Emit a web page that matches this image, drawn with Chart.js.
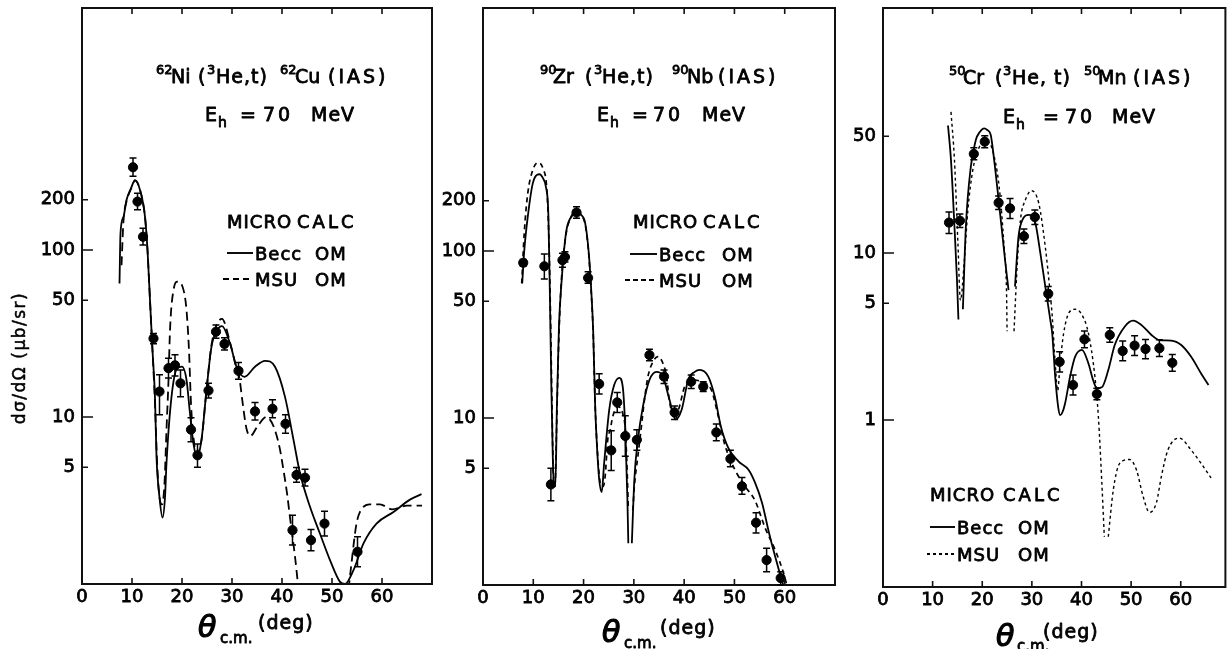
<!DOCTYPE html>
<html>
<head>
<meta charset="utf-8">
<script src="https://cdn.jsdelivr.net/npm/chart.js@4.4.0/dist/chart.umd.min.js"></script>
<style>
  html, body { margin: 0; padding: 0; background: #fff; overflow: hidden; }
  #wrap { position: relative; width: 1231px; height: 649px; }
  #wrap canvas { position: absolute; left: 0; top: 0; }
</style>
</head>
<body>
<div id="wrap">
  <canvas id="ni" width="1231" height="649"></canvas>
  <canvas id="zr" width="1231" height="649"></canvas>
  <canvas id="cr" width="1231" height="649"></canvas>
</div>
<script>
// Scattering angle ticks (deg), shared by all three panels
const xTicksDeg = [0, 10, 20, 30, 40, 50, 60];

// ---------- 62Ni(3He,t)62Cu (IAS) ----------
const niBeccDeg = [7.5, 7.7, 8.3, 8.9, 9.8, 10.6, 11.6, 12.6, 13.1, 13.6, 14.1, 14.6, 14.9, 15.5, 16.1, 16.6, 16.9, 17.9, 19.0, 20.0, 20.9, 21.6, 22.3, 23.0, 23.9, 24.9, 25.9, 27.0, 28.0, 29.6, 30.9, 32.5, 34.6, 36.6, 38.6, 40.6, 42.3, 43.6, 45.6, 47.6, 49.6, 51.6, 52.6, 54.3, 56.3, 58.9, 62.3, 65.6, 67.9];
const niBeccVal = [63, 126, 158, 199, 234, 262, 229, 158, 100, 50, 25, 13, 5.8, 3.3, 2.5, 3.3, 5.3, 13.2, 19.5, 20, 16.7, 10.5, 6.9, 5.8, 7.3, 14.5, 26.4, 33, 35, 27.6, 20, 17.4, 20, 21.7, 20, 13.2, 7.3, 4.6, 2.9, 2.0, 1.39, 1.03, 1.0, 1.21, 1.75, 2.3, 2.7, 3.2, 3.45];
const niMsuDeg = [7.9, 8.3, 8.9, 9.8, 10.6, 11.6, 12.6, 13.1, 13.6, 14.1, 14.6, 15.0, 15.5, 16.0, 16.5, 16.9, 17.3, 17.6, 18.3, 19.1, 20.3, 20.9, 21.4, 21.8, 22.3, 23.0, 23.9, 24.9, 25.9, 27.0, 28.0, 29.6, 30.9, 31.5, 32.0, 32.9, 33.7, 35.0, 36.9, 38.3, 39.5, 40.3, 41.0, 41.6, 42.6, 43.3, 48.0, 53.3, 53.9, 54.4, 54.9, 55.6, 57.5, 59.6, 62.0, 65.0, 68.0];
const niMsuVal = [81, 150, 195, 232, 260, 229, 158, 100, 50, 25, 12, 5.5, 3.3, 3.0, 4.0, 8.4, 16.6, 33, 57.7, 64.6, 57.7, 43.7, 25, 12, 7.5, 6.0, 7.3, 14.5, 27, 36, 38.7, 28, 19.5, 17, 13, 8.5, 7.7, 8.7, 10, 8.8, 6.6, 4.8, 3.5, 2.5, 1.46, 0.93, null, 0.93, 1.33, 1.8, 2.3, 2.7, 3.0, 3.0, 2.8, 2.95, 2.95];
const niExpDeg = [10.2, 11.1, 12.2, 14.3, 15.5, 17.3, 18.6, 19.7, 21.8, 23.1, 25.3, 26.8, 28.5, 31.3, 34.6, 38.1, 40.7, 42.1, 42.9, 44.6, 45.8, 48.5, 55.1];
const niExpVal = [313, 195, 120, 29.5, 14.2, 19.6, 20.4, 15.9, 8.4, 5.9, 14.4, 32.4, 27.4, 18.9, 10.8, 11.2, 9.1, 2.1, 4.5, 4.33, 1.83, 2.3, 1.56];
const niExpLow = [276, 174, 107, 27.5, 10.3, 17.1, 17.6, 13.2, 7.1, 5.0, 13.0, 29.6, 25.2, 16.8, 9.6, 9.9, 8.0, 1.71, 4.07, 3.86, 1.58, 1.94, 1.27];
const niExpHigh = [355, 219, 135, 31.6, 17.9, 22.5, 23.6, 19.1, 9.9, 6.9, 15.9, 35.5, 29.8, 21.2, 12.2, 12.7, 10.3, 2.58, 4.98, 4.86, 2.12, 2.73, 1.92];
const niYLabels = [5, 10, 50, 100, 200];

// ---------- 90Zr(3He,t)90Nb (IAS) ----------
const zrBeccDeg = [7.8, 8.2, 8.9, 9.9, 11.2, 12.0, 12.5, 13.0, 13.3, 13.6, 13.9, 14.1, 14.4, 14.7, 15.1, 15.6, 16.5, 17.5, 18.6, 19.5, 20.3, 21.0, 21.5, 21.9, 22.3, 22.7, 23.1, 23.6, 24.1, 25.1, 26.1, 27.1, 27.8, 28.3, 28.7, 28.9, 29.2, 29.6, 30.1, 30.8, 31.8, 33.1, 34.5, 35.8, 37.1, 38.3, 39.5, 40.8, 42.1, 43.1, 44.8, 46.1, 47.3, 48.8, 50.8, 52.8, 54.1, 55.5, 56.8, 58.1, 59.5, 60.2];
const zrBeccVal = [64, 100, 160, 254, 288, 270, 243, 165, 55, 15, 5.5, 3.9, 3.9, 12, 35, 64, 128, 160, 175, 165, 148, 100, 60, 34, 12, 6.5, 4.3, 3.6, 5.4, 11.2, 15.8, 17.4, 15.3, 8.5, 3.4, 1.78, null, 1.78, 4.3, 7.4, 11.7, 16.9, 18.9, 17.7, 12.8, 9.8, 11.2, 16.9, 18.9, 19.4, 17.7, 13.4, 8.9, 6.6, 5.5, 4.9, 4.1, 3.1, 2.1, 1.48, 1.05, 0.9];
const zrMsuDeg = [7.7, 8.2, 8.9, 9.9, 10.9, 11.9, 12.7, 13.1, 13.4, 13.7, 14.0, 14.3, 14.6, 15.0, 15.5, 16.5, 17.5, 18.6, 19.5, 20.3, 21.0, 21.5, 21.9, 22.3, 22.8, 23.4, 23.9, 24.3, 24.8, 25.3, 25.8, 26.8, 27.8, 28.3, 28.7, 28.9, 29.3, 29.8, 30.1, 30.8, 31.5, 32.1, 32.8, 33.8, 34.8, 35.8, 36.5, 37.1, 38.2, 39.0, 40.1, 41.5, 43.0, 44.5, 45.5, 46.8, 48.1, 50.1, 52.1, 54.1, 56.1, 58.1, 59.8, 60.8];
const zrMsuVal = [64, 128, 221, 305, 338, 313, 232, 120, 45, 13, 4.5, 3.9, 8, 25, 60, 125, 158, 172, 163, 145, 98, 58, 33, 12, 6, 4.0, 3.9, 4.5, 7.4, 8.5, 10.2, 11.7, 10.6, 8.5, 4.5, 2.8, null, 2.8, 3.9, 5.9, 8.9, 12.8, 17.7, 21.7, 23.3, 21.2, 17.7, 12.5, 9.9, 11.5, 15.4, 16.9, 16.7, 16.0, 14.5, 10.2, 6.9, 4.9, 3.9, 3.2, 2.2, 1.62, 1.17, 0.9];
const zrExpDeg = [8.0, 12.2, 13.5, 15.8, 16.3, 18.6, 20.9, 23.1, 25.5, 26.7, 28.3, 30.6, 33.1, 36.0, 38.1, 41.4, 43.8, 46.4, 49.2, 51.5, 54.3, 56.4, 59.2];
const zrExpVal = [85, 81, 4.0, 88, 92, 170, 69, 16.0, 6.4, 12.4, 7.8, 7.4, 23.8, 17.7, 10.8, 16.5, 15.4, 8.2, 5.7, 3.9, 2.36, 1.41, 1.1];
const zrExpLow = [81, 68, 3.2, 80, 86, 157, 64, 13.9, 4.85, 10.8, 5.9, 6.4, 22.0, 16.1, 9.8, 15.0, 14.4, 7.3, 5.1, 3.5, 2.05, 1.2, 1.0];
const zrExpHigh = [89, 96, 5.0, 97, 99, 184, 75, 18.4, 8.4, 14.2, 10.3, 8.5, 25.8, 19.4, 11.8, 18.1, 16.5, 9.2, 6.4, 4.4, 2.71, 1.66, 1.2];
const zrYLabels = [5, 10, 50, 100, 200];

// ---------- 50Cr(3He,t)50Mn (IAS) ----------
const crBeccDeg = [13.1, 13.7, 14.4, 14.9, 15.2, 15.6, 16.1, 16.7, 17.7, 18.7, 19.5, 20.4, 21.0, 21.7, 22.4, 23.3, 24.1, 24.8, 25.3, 26.0, 26.6, 27.3, 28.1, 29.4, 30.7, 31.7, 32.7, 33.7, 34.1, 34.7, 35.3, 35.7, 36.2, 36.7, 37.7, 38.7, 40.1, 41.4, 42.3, 43.1, 44.1, 45.4, 46.7, 48.7, 50.4, 52.1, 54.1, 55.7, 58.1, 60.1, 62.1, 64.1, 65.6];
const crBeccVal = [58, 36, 14.4, 7, 4.0, null, 4.6, 14.4, 32.9, 47.5, 53, 55.8, 54.5, 51, 36, 20.8, 12.5, 8, 6.0, null, 6.3, 12.5, 15.8, 16.9, 15.1, 10, 6.3, 4.0, 3.3, 1.82, 1.2, 1.07, 1.12, 1.26, 1.82, 2.39, 2.63, 2.18, 1.75, 1.55, 1.57, 1.99, 2.81, 3.62, 3.93, 3.7, 3.23, 3.01, 2.99, 2.81, 2.39, 1.9, 1.62];
const crMsuDeg = [13.7, 14.4, 15.1, 15.6, 16.4, 17.1, 18.1, 19.4, 21.1, 22.1, 23.4, 24.4, 24.9, 25.0, 25.7, 26.4, 27.1, 27.7, 28.7, 29.9, 31.4, 32.7, 33.7, 34.1, 34.7, 35.2, 35.7, 36.4, 37.4, 38.7, 40.1, 41.4, 42.7, 43.4, 44.1, 44.6, 45.0, 45.4, 46.4, 47.7, 49.7, 51.1, 52.4, 53.7, 55.1, 56.1, 57.4, 59.7, 62.1, 64.1, 66.1];
const crMsuVal = [70, 36, 11.4, 5.2, 9.1, 18, 31.4, 43, 46.5, 41, 25, 10.9, 5.7, 3.4, null, 3.4, 9.1, 15.8, 20.8, 23.6, 19.8, 10.9, 5.7, 4.2, 2.2, 1.5, 2.2, 3.3, 4.35, 4.6, 4.26, 3.3, 1.82, 1.05, 0.42, 0.2, null, 0.2, 0.38, 0.55, 0.58, 0.5, 0.35, 0.28, 0.32, 0.46, 0.66, 0.78, 0.66, 0.55, 0.45];
const crExpDeg = [13.3, 15.5, 18.3, 20.5, 23.3, 25.6, 28.4, 30.6, 33.3, 35.6, 38.3, 40.6, 43.1, 45.7, 48.3, 50.7, 52.9, 55.7, 58.3];
const crExpVal = [15.2, 15.6, 39.2, 46.4, 20, 18.5, 12.6, 16.4, 5.7, 2.23, 1.62, 3.04, 1.43, 3.23, 2.59, 2.79, 2.66, 2.69, 2.2];
const crExpLow = [13.1, 14.2, 36.1, 42.7, 18.2, 16.1, 11.4, 14.8, 5.15, 1.94, 1.41, 2.71, 1.32, 2.92, 2.26, 2.43, 2.33, 2.4, 1.96];
const crExpHigh = [17.6, 17.1, 42.6, 50.4, 21.9, 21.2, 13.9, 18.1, 6.3, 2.56, 1.86, 3.41, 1.55, 3.57, 2.97, 3.2, 3.03, 3.02, 2.47];
const crYLabels = [1, 5, 10, 50];

const FONT = "'DejaVu Sans'";
const INK = 0.8; // extra stroke that gives the lettering a semi-bold weight

function toPoints(xs, ys) {
  return xs.map((x, i) => ({ x: x, y: ys[i] }));
}

// tick marks of a log axis: 1..9 x 10^n inside [min, max]
function logTicks(min, max) {
  const out = [];
  for (let e = Math.floor(Math.log10(min)); e <= Math.ceil(Math.log10(max)); e++) {
    for (let m = 1; m <= 9; m++) {
      const v = +(m * Math.pow(10, e)).toPrecision(6);
      if (v >= min && v <= max) out.push(v);
    }
  }
  return out;
}
function isDecade(v) {
  const l = Math.log10(v);
  return Math.abs(l - Math.round(l)) < 1e-9;
}

// frame with inward tick marks on the bottom, top and left edges
const frameTicks = {
  id: 'frameTicks',
  afterDatasetsDraw(chart) {
    const { ctx, chartArea: a, scales: { x, y } } = chart;
    ctx.save();
    ctx.strokeStyle = '#111';
    ctx.lineWidth = 2;
    ctx.strokeRect(a.left, a.top, a.right - a.left, a.bottom - a.top);
    ctx.lineWidth = 1.6;
    ctx.beginPath();
    x.ticks.forEach(t => {
      if (t.value <= x.min || t.value >= x.max) return;
      const px = x.getPixelForValue(t.value);
      ctx.moveTo(px, a.bottom); ctx.lineTo(px, a.bottom - 6);
      ctx.moveTo(px, a.top); ctx.lineTo(px, a.top + 6);
    });
    y.ticks.forEach(t => {
      const py = y.getPixelForValue(t.value);
      if (py < a.top + 2 || py > a.bottom - 2) return;
      const len = isDecade(t.value) ? 11 : 6;
      ctx.moveTo(a.left, py); ctx.lineTo(a.left + len, py);
    });
    ctx.stroke();
    ctx.restore();
  }
};

// vertical error bars with short caps, from each dataset's errLow / errHigh
const errorBars = {
  id: 'errorBars',
  afterDatasetsDraw(chart) {
    const { ctx, scales: { x, y } } = chart;
    chart.data.datasets.forEach(ds => {
      if (!ds.errLow) return;
      ctx.save();
      ctx.strokeStyle = '#000';
      ctx.lineWidth = 1.5;
      ds.data.forEach((p, j) => {
        const px = x.getPixelForValue(p.x);
        const y1 = y.getPixelForValue(ds.errLow[j]);
        const y2 = y.getPixelForValue(ds.errHigh[j]);
        ctx.beginPath();
        ctx.moveTo(px, y1); ctx.lineTo(px, y2);
        ctx.moveTo(px - 3.5, y1); ctx.lineTo(px + 3.5, y1);
        ctx.moveTo(px - 3.5, y2); ctx.lineTo(px + 3.5, y2);
        ctx.stroke();
      });
      ctx.restore();
    });
  }
};

// reaction title, beam energy, legend and axis titles of one panel
function textLayer(items) {
  return {
    id: 'textLayer',
    afterDraw(chart) {
      const ctx = chart.ctx;
      ctx.save();
      ctx.fillStyle = '#000';
      ctx.strokeStyle = '#000';
      items.forEach(it => {
        if (it.line) {
          ctx.save();
          ctx.lineWidth = 1.9;
          ctx.setLineDash(it.dash || []);
          ctx.beginPath();
          ctx.moveTo(it.line[0], it.line[2]);
          ctx.lineTo(it.line[1], it.line[2]);
          ctx.stroke();
          ctx.restore();
          return;
        }
        ctx.font = (it.italic ? 'italic ' : '') + (it.size || 19) + 'px ' + FONT;
        ctx.letterSpacing = (it.ls || 0) + 'px';
        ctx.lineWidth = it.ink === undefined ? INK : it.ink;
        ctx.lineJoin = 'round';
        ctx.save();
        ctx.translate(it.x, it.y);
        if (it.rot) {
          ctx.rotate(it.rot);
          ctx.textAlign = 'center';
          ctx.textBaseline = 'middle';
        } else {
          ctx.textAlign = 'left';
          ctx.textBaseline = 'alphabetic';
        }
        ctx.fillText(it.t, 0, 0);
        if (ctx.lineWidth > 0) ctx.strokeText(it.t, 0, 0);
        ctx.restore();
      });
      ctx.restore();
    }
  };
}

function panel(id, p) {
  const datasets = [
    {
      type: 'line', label: 'Becc OM',
      data: toPoints(p.beccDeg, p.beccVal),
      borderColor: '#000', borderWidth: 1.8, pointRadius: 0,
      cubicInterpolationMode: 'monotone', spanGaps: false, fill: false
    },
    {
      type: 'line', label: 'MSU OM',
      data: toPoints(p.msuDeg, p.msuVal),
      borderColor: '#000', borderWidth: p.dashWidth, borderDash: p.dash, pointRadius: 0,
      cubicInterpolationMode: 'monotone', spanGaps: false, fill: false
    },
    {
      type: 'scatter', label: 'data',
      data: toPoints(p.expDeg, p.expVal),
      errLow: p.expLow, errHigh: p.expHigh,
      pointRadius: 4.6, pointBackgroundColor: '#000', pointBorderColor: '#000', showLine: false
    }
  ];
  const tickFont = { family: FONT, size: 18 };
  new Chart(document.getElementById(id), {
    type: 'line',
    data: { datasets: datasets },
    options: {
      responsive: false,
      animation: false,
      events: [],
      layout: { padding: { left: p.left - 82, right: 1231 - p.right, top: 8, bottom: 0 } },
      plugins: { legend: { display: false }, tooltip: { enabled: false } },
      scales: {
        x: {
          type: 'linear', min: 0, max: p.xMax,
          grid: { display: false, drawTicks: false },
          border: { display: false },
          afterBuildTicks: s => { s.ticks = xTicksDeg.map(v => ({ value: v })); },
          afterFit: s => { s.height = 649 - p.bottom; s.paddingLeft = 0; s.paddingRight = 0; },
          ticks: {
            font: tickFont, color: '#000', textStrokeColor: '#000', textStrokeWidth: INK,
            padding: 3, maxRotation: 0, autoSkip: false, callback: v => String(v)
          }
        },
        y: {
          type: 'logarithmic', min: p.yMin, max: p.yMax,
          grid: { display: false, drawTicks: false },
          border: { display: false },
          afterBuildTicks: s => { s.ticks = logTicks(p.yMin, p.yMax).map(v => ({ value: v })); },
          afterFit: s => { s.width = 82; s.paddingTop = 0; s.paddingBottom = 0; },
          ticks: {
            font: tickFont, color: '#000', textStrokeColor: '#000', textStrokeWidth: INK,
            padding: 7, autoSkip: false,
            callback: v => (p.yLabels.includes(v) ? String(v) : null)
          }
        }
      }
    },
    plugins: [frameTicks, errorBars, textLayer(p.texts)]
  });
}

panel('ni', {
  left: 82, right: 432, bottom: 584, xMax: 70, yMin: 1, yMax: 2812,
  beccDeg: niBeccDeg, beccVal: niBeccVal, msuDeg: niMsuDeg, msuVal: niMsuVal,
  expDeg: niExpDeg, expVal: niExpVal, expLow: niExpLow, expHigh: niExpHigh,
  yLabels: niYLabels, dash: [9, 5], dashWidth: 1.8,
  texts: [
    { t: '62', x: 156, y: 74, size: 13 }, { t: 'Ni', x: 171, y: 83 }, { t: '(', x: 198, y: 83 },
    { t: '3', x: 207, y: 74, size: 13 }, { t: 'He,t)', x: 216, y: 83, ls: 1 },
    { t: '62', x: 280, y: 74, size: 13 }, { t: 'Cu', x: 295, y: 83 }, { t: '(IAS)', x: 328, y: 83, ls: 3 },
    { t: 'E', x: 205, y: 121 }, { t: 'h', x: 218, y: 127, size: 14 }, { t: '=', x: 240, y: 121 },
    { t: '70', x: 263, y: 121, ls: 3 }, { t: 'MeV', x: 311, y: 121, ls: 1 },
    { t: 'MICRO', x: 227, y: 228, size: 18, ls: 1 }, { t: 'CALC', x: 297, y: 228, size: 18, ls: 3 },
    { line: [227, 253, 253] }, { t: 'Becc', x: 255, y: 260, size: 18, ls: 1 }, { t: 'OM', x: 315, y: 260, size: 18, ls: 1 },
    { line: [223, 253, 279], dash: [6, 4] }, { t: 'MSU', x: 255, y: 286, size: 18, ls: 1 }, { t: 'OM', x: 315, y: 286, size: 18, ls: 1 },
    { t: 'θ', x: 198, y: 637, size: 30, italic: true, ink: 1.2 }, { t: 'c.m.', x: 220, y: 643, size: 15 },
    { t: '(deg)', x: 258, y: 629, size: 19, ls: 1 },
    { t: 'dσ/dΩ (μb/sr)', x: 21, y: 358, size: 17, ls: 1.5, ink: 0.5, rot: -Math.PI / 2 }
  ]
});

panel('zr', {
  left: 483, right: 835, bottom: 585, xMax: 70, yMin: 1, yMax: 2851,
  beccDeg: zrBeccDeg, beccVal: zrBeccVal, msuDeg: zrMsuDeg, msuVal: zrMsuVal,
  expDeg: zrExpDeg, expVal: zrExpVal, expLow: zrExpLow, expHigh: zrExpHigh,
  yLabels: zrYLabels, dash: [5, 4], dashWidth: 1.7,
  texts: [
    { t: '90', x: 540, y: 74, size: 13 }, { t: 'Zr', x: 553, y: 83 }, { t: '(', x: 585, y: 83 },
    { t: '3', x: 594, y: 74, size: 13 }, { t: 'He,t)', x: 602, y: 83, ls: 1 },
    { t: '90', x: 672, y: 74, size: 13 }, { t: 'Nb', x: 687, y: 83 }, { t: '(IAS)', x: 718, y: 83, ls: 3 },
    { t: 'E', x: 597, y: 121 }, { t: 'h', x: 610, y: 127, size: 14 }, { t: '=', x: 632, y: 121 },
    { t: '70', x: 653, y: 121, ls: 3 }, { t: 'MeV', x: 702, y: 121, ls: 1 },
    { t: 'MICRO', x: 633, y: 228, size: 18, ls: 1 }, { t: 'CALC', x: 703, y: 228, size: 18, ls: 3 },
    { line: [630, 657, 254] }, { t: 'Becc', x: 659, y: 261, size: 18, ls: 1 }, { t: 'OM', x: 722, y: 261, size: 18, ls: 1 },
    { line: [625, 657, 280], dash: [5, 3] }, { t: 'MSU', x: 659, y: 287, size: 18, ls: 1 }, { t: 'OM', x: 722, y: 287, size: 18, ls: 1 },
    { t: 'θ', x: 602, y: 642, size: 30, italic: true, ink: 1.2 }, { t: 'c.m.', x: 624, y: 648, size: 15 },
    { t: '(deg)', x: 660, y: 634, size: 19, ls: 1 }
  ]
});

panel('cr', {
  left: 883, right: 1228, bottom: 587, xMax: 69, yMin: 0.1, yMax: 293,
  beccDeg: crBeccDeg, beccVal: crBeccVal, msuDeg: crMsuDeg, msuVal: crMsuVal,
  expDeg: crExpDeg, expVal: crExpVal, expLow: crExpLow, expHigh: crExpHigh,
  yLabels: crYLabels, dash: [3, 3], dashWidth: 1.4,
  texts: [
    { t: '50', x: 949, y: 75, size: 13 }, { t: 'Cr', x: 963, y: 84 }, { t: '(', x: 995, y: 84 },
    { t: '3', x: 1003, y: 75, size: 13 }, { t: 'He, t)', x: 1012, y: 84, ls: 1 },
    { t: '50', x: 1084, y: 75, size: 13 }, { t: 'Mn', x: 1098, y: 84 }, { t: '(IAS)', x: 1133, y: 84, ls: 3 },
    { t: 'E', x: 1003, y: 123 }, { t: 'h', x: 1016, y: 129, size: 14 }, { t: '=', x: 1043, y: 123 },
    { t: '70', x: 1065, y: 123, ls: 3 }, { t: 'MeV', x: 1112, y: 123, ls: 1 },
    { t: 'MICRO', x: 930, y: 501, size: 18, ls: 1 }, { t: 'CALC', x: 1003, y: 501, size: 18, ls: 3 },
    { line: [930, 955, 527] }, { t: 'Becc', x: 957, y: 534, size: 18, ls: 1 }, { t: 'OM', x: 1018, y: 534, size: 18, ls: 1 },
    { line: [927, 955, 554], dash: [3, 3] }, { t: 'MSU', x: 957, y: 561, size: 18, ls: 1 }, { t: 'OM', x: 1018, y: 561, size: 18, ls: 1 },
    { t: 'θ', x: 996, y: 646, size: 30, italic: true, ink: 1.2 }, { t: 'c.m.', x: 1017, y: 651, size: 15 },
    { t: '(deg)', x: 1043, y: 638, size: 19, ls: 1 }
  ]
});
</script>
</body>
</html>
